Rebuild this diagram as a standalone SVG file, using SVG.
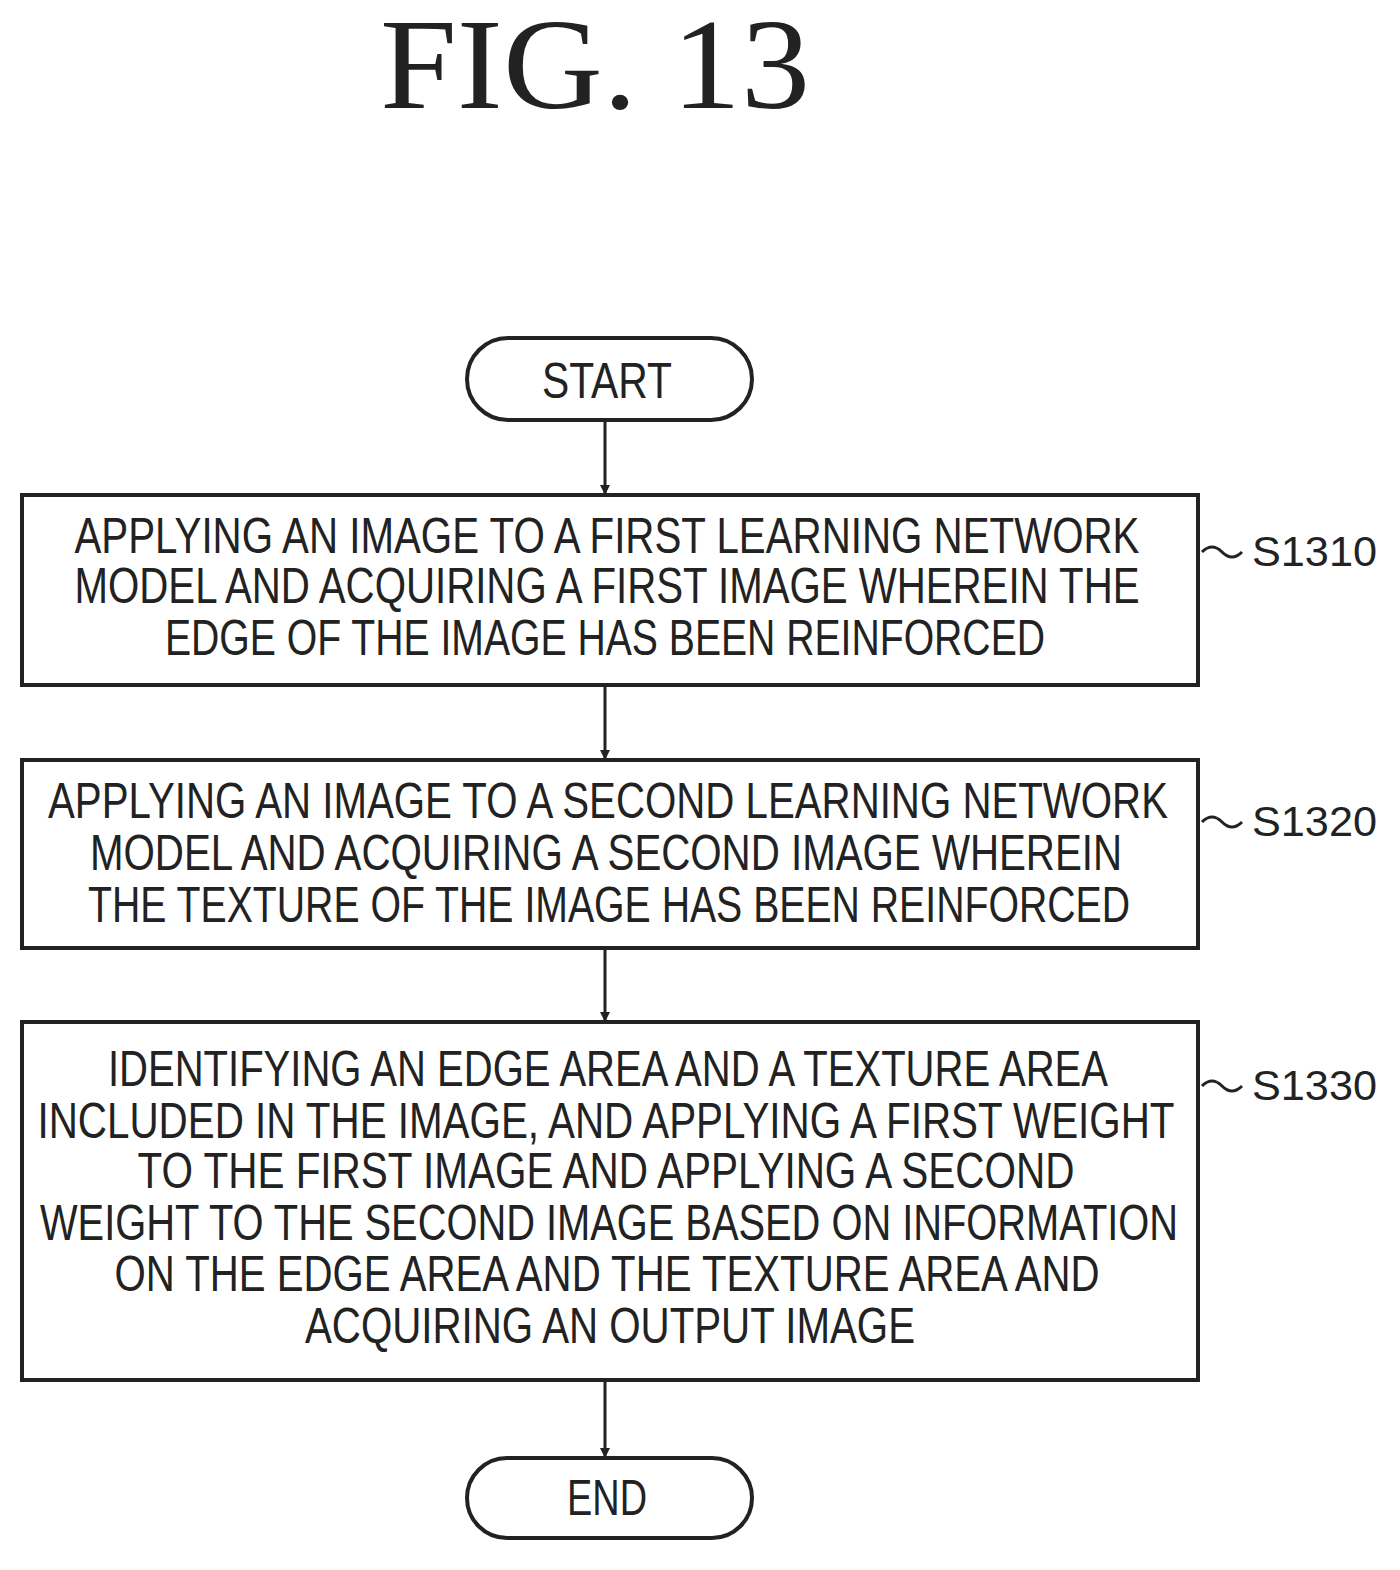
<svg xmlns="http://www.w3.org/2000/svg" width="1400" height="1570" viewBox="0 0 1400 1570">
<style>
.b{fill:#fff;stroke:#222;stroke-width:4}
.t{font-family:"Liberation Sans",Arial,sans-serif;font-size:50px;fill:#222;text-anchor:middle}
.l{font-family:"Liberation Sans",Arial,sans-serif;font-size:42px;fill:#222}
.c{stroke:#222;stroke-width:3;fill:none}
</style>
<defs><marker id="a" markerWidth="10" markerHeight="10" refX="8" refY="5" orient="auto" markerUnits="userSpaceOnUse"><path d="M0,0L10,5L0,10Z" fill="#222"/></marker></defs>
<rect width="1400" height="1570" fill="#fff"/>
<text x="595" y="108" font-family="Liberation Serif,serif" font-size="130" fill="#222" text-anchor="middle" textLength="430" lengthAdjust="spacingAndGlyphs">FIG. 13</text>
<g id="start"><rect class="b" x="467" y="338" width="285" height="82" rx="41"/><text class="t" x="607" y="398" textLength="130" lengthAdjust="spacingAndGlyphs">START</text></g>
<g id="s1310"><rect class="b" x="22" y="495" width="1176" height="190"/>
<text class="t" x="607" y="553" textLength="1065" lengthAdjust="spacingAndGlyphs">APPLYING AN IMAGE TO A FIRST LEARNING NETWORK</text>
<text class="t" x="607" y="603" textLength="1065" lengthAdjust="spacingAndGlyphs">MODEL AND ACQUIRING A FIRST IMAGE WHEREIN THE</text>
<text class="t" x="605" y="655" textLength="880" lengthAdjust="spacingAndGlyphs">EDGE OF THE IMAGE HAS BEEN REINFORCED</text>
<text class="l" x="1252" y="566" textLength="125" lengthAdjust="spacingAndGlyphs">S1310</text></g>
<g id="s1320"><rect class="b" x="22" y="760" width="1176" height="188"/>
<text class="t" x="608" y="818" textLength="1120" lengthAdjust="spacingAndGlyphs">APPLYING AN IMAGE TO A SECOND LEARNING NETWORK</text>
<text class="t" x="606" y="870" textLength="1032" lengthAdjust="spacingAndGlyphs">MODEL AND ACQUIRING A SECOND IMAGE WHEREIN</text>
<text class="t" x="609" y="922" textLength="1042" lengthAdjust="spacingAndGlyphs">THE TEXTURE OF THE IMAGE HAS BEEN REINFORCED</text>
<text class="l" x="1252" y="836" textLength="125" lengthAdjust="spacingAndGlyphs">S1320</text></g>
<g id="s1330"><rect class="b" x="22" y="1022" width="1176" height="358"/>
<text class="t" x="608" y="1086" textLength="1000" lengthAdjust="spacingAndGlyphs">IDENTIFYING AN EDGE AREA AND A TEXTURE AREA</text>
<text class="t" x="606" y="1138" textLength="1137" lengthAdjust="spacingAndGlyphs">INCLUDED IN THE IMAGE, AND APPLYING A FIRST WEIGHT</text>
<text class="t" x="606" y="1188" textLength="937" lengthAdjust="spacingAndGlyphs">TO THE FIRST IMAGE AND APPLYING A SECOND</text>
<text class="t" x="609" y="1240" textLength="1138" lengthAdjust="spacingAndGlyphs">WEIGHT TO THE SECOND IMAGE BASED ON INFORMATION</text>
<text class="t" x="607" y="1291" textLength="985" lengthAdjust="spacingAndGlyphs">ON THE EDGE AREA AND THE TEXTURE AREA AND</text>
<text class="t" x="610" y="1343" textLength="610" lengthAdjust="spacingAndGlyphs">ACQUIRING AN OUTPUT IMAGE</text>
<text class="l" x="1252" y="1100" textLength="125" lengthAdjust="spacingAndGlyphs">S1330</text></g>
<g id="end"><rect class="b" x="467" y="1458" width="285" height="80" rx="40"/><text class="t" x="607" y="1515" textLength="80" lengthAdjust="spacingAndGlyphs">END</text></g>
<g id="connectors">
<line class="c" x1="605" y1="420" x2="605" y2="493" marker-end="url(#a)"/>
<line class="c" x1="605" y1="685" x2="605" y2="758" marker-end="url(#a)"/>
<line class="c" x1="605" y1="948" x2="605" y2="1020" marker-end="url(#a)"/>
<line class="c" x1="605" y1="1380" x2="605" y2="1456" marker-end="url(#a)"/>
<path class="c" d="M1202,552 q10,-10 20,0 t20,0"/>
<path class="c" d="M1202,822 q10,-10 20,0 t20,0"/>
<path class="c" d="M1202,1086 q10,-10 20,0 t20,0"/>
</g>
</svg>
